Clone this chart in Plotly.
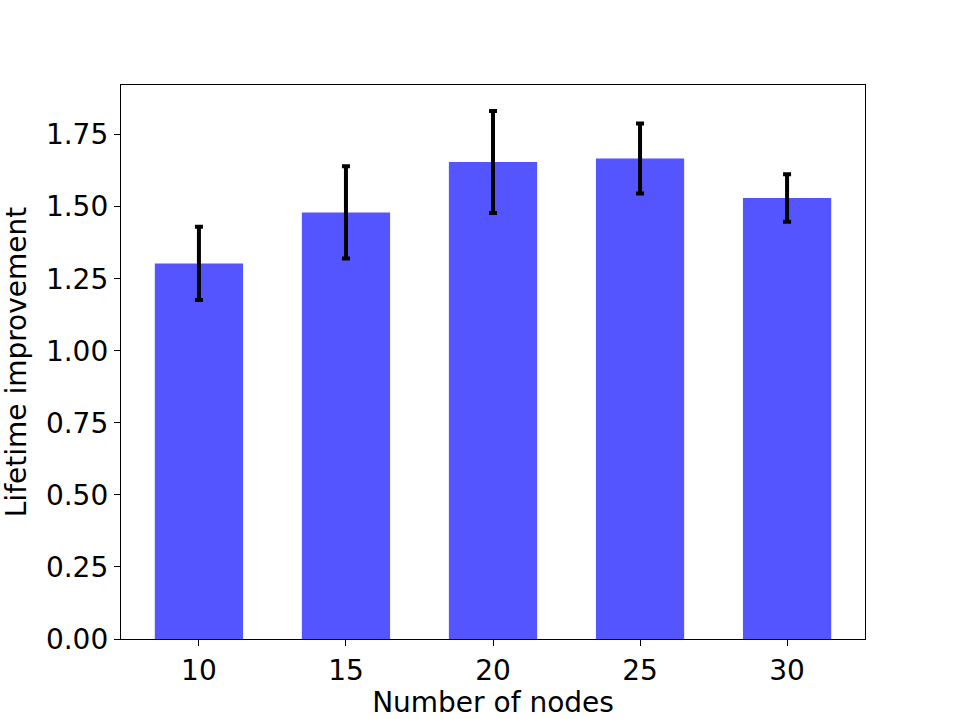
import plotly.graph_objects as go

nodes = [10, 15, 20, 25, 30]
improvement = [1.303, 1.480, 1.655, 1.667, 1.530]
err = [0.127, 0.160, 0.177, 0.121, 0.082]
tick_vals = [0, 0.25, 0.5, 0.75, 1.0, 1.25, 1.5, 1.75]
tick_text = ["0.00", "0.25", "0.50", "0.75", "1.00", "1.25", "1.50", "1.75"]

fig = go.Figure()
fig.add_trace(go.Bar(
    x=nodes, y=improvement, width=3,
    marker=dict(color="#5555FF", line=dict(width=0)),
    error_y=dict(type="data", array=err, visible=True, color="black", thickness=4, width=4),
))
fig.update_layout(
    width=961, height=719,
    margin=dict(l=121, r=96, t=85, b=80),
    plot_bgcolor="white", paper_bgcolor="white",
    font=dict(family="DejaVu Sans", size=28, color="black"),
    showlegend=False,
)
fig.update_xaxes(
    range=[7.35, 32.65], tickvals=nodes, ticktext=[str(n) for n in nodes],
    showline=True, linecolor="black", linewidth=1.3, mirror=True,
    ticks="outside", ticklen=6, tickwidth=1.3, tickcolor="black",
    showgrid=False, zeroline=False, tickfont=dict(size=28), automargin=False,
    title=dict(text="Number of nodes", font=dict(size=28), standoff=4),
)
fig.update_yaxes(
    range=[0, 1.922], tickvals=tick_vals, ticktext=tick_text,
    showline=True, linecolor="black", linewidth=1.3, mirror=True,
    ticks="outside", ticklen=6, tickwidth=1.3, tickcolor="black",
    showgrid=False, zeroline=False, tickfont=dict(size=28), automargin=False,
    title=dict(text="Lifetime improvement", font=dict(size=28), standoff=12),
)
fig.write_html("out.html")
